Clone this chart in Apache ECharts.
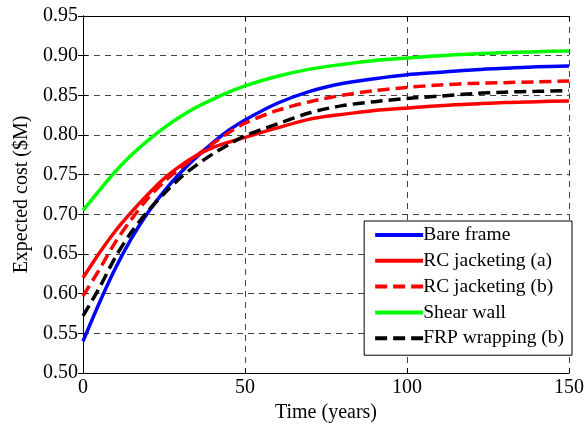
<!DOCTYPE html>
<html>
<head>
<meta charset="utf-8">
<script src="https://cdn.jsdelivr.net/npm/echarts@6/dist/echarts.min.js"></script>
<style>
html,body{margin:0;padding:0;background:#fff;}
#chart{width:587px;height:428px;}
</style>
</head>
<body>
<div id="chart"></div>
<script>
var years = [0,5,10,15,20,25,30,35,40,45,50,60,70,80,90,100,110,120,130,140,150];
var bareFrame = [0.540,0.588,0.632,0.670,0.702,0.729,0.752,0.772,0.790,0.806,0.819,0.840,0.855,0.865,0.871,0.876,0.879,0.882,0.884,0.886,0.887];
var rcJacketingA = [0.620,0.651,0.679,0.703,0.725,0.745,0.761,0.774,0.784,0.791,0.797,0.809,0.820,0.826,0.831,0.834,0.837,0.839,0.841,0.842,0.843];
var rcJacketingB = [0.597,0.630,0.665,0.694,0.720,0.741,0.758,0.774,0.789,0.803,0.815,0.831,0.842,0.850,0.856,0.860,0.863,0.865,0.866,0.867,0.868];
var shearWall = [0.705,0.730,0.754,0.775,0.793,0.809,0.823,0.835,0.845,0.854,0.862,0.874,0.883,0.889,0.894,0.897,0.900,0.902,0.904,0.905,0.906];
var frpWrappingB = [0.572,0.607,0.646,0.678,0.704,0.726,0.746,0.762,0.776,0.788,0.799,0.814,0.828,0.837,0.842,0.846,0.849,0.852,0.854,0.855,0.856];
var seriesNames = ['Bare frame','RC jacketing (a)','RC jacketing (b)','Shear wall','FRP wrapping (b)'];

function pairs(vals){ return years.map(function(t,i){ return [t, vals[i]]; }); }

var FONT = '"Liberation Serif","Times New Roman",serif';
var gridLine = {show:true, lineStyle:{color:'#444', width:1, type:[6,5]}};

var chart = echarts.init(document.getElementById('chart'), null, {renderer:'canvas'});
function mk(name, vals, color, dashed){
  return {
    name:name, type:'line', data:pairs(vals), symbol:'none', smooth:0.3,
    xAxisIndex:0, yAxisIndex:0,
    lineStyle:{color:color, width:3.5, type: dashed ? [12,6] : 'solid'},
    itemStyle:{color:color}
  };
}
chart.setOption({
  animation:false,
  backgroundColor:'#fff',
  grid:{left:83, right:15, top:16, bottom:55},
  xAxis:[{
    type:'value', min:0, max:150, interval:50, position:'bottom',
    name:'Time (years)', nameLocation:'middle', nameGap:29,
    nameTextStyle:{fontFamily:FONT, fontSize:20, color:'#000'},
    axisLine:{show:true, lineStyle:{color:'#000', width:1}},
    axisTick:{show:true, inside:true, length:5, lineStyle:{color:'#000'}},
    axisLabel:{fontFamily:FONT, fontSize:20, color:'#000', margin:5},
    splitLine:gridLine
  },{
    type:'value', min:0, max:150, interval:50, position:'top',
    axisLine:{show:true, lineStyle:{color:'#000', width:1}},
    axisTick:{show:true, inside:true, length:5, lineStyle:{color:'#000'}},
    axisLabel:{show:false}, splitLine:{show:false}
  }],
  yAxis:[{
    type:'value', min:0.5, max:0.95, interval:0.05, position:'left',
    name:'Expected cost ($M)', nameLocation:'middle', nameGap:47,
    nameTextStyle:{fontFamily:FONT, fontSize:20, color:'#000'},
    axisLine:{show:true, lineStyle:{color:'#000', width:1}},
    axisTick:{show:true, inside:true, length:5, lineStyle:{color:'#000'}},
    axisLabel:{fontFamily:FONT, fontSize:20, color:'#000', margin:5,
      formatter:function(v){ return v.toFixed(2); }},
    splitLine:gridLine
  },{
    type:'value', min:0.5, max:0.95, interval:0.05, position:'right',
    axisLine:{show:true, lineStyle:{color:'#000', width:1}},
    axisTick:{show:true, inside:true, length:5, lineStyle:{color:'#000'}},
    axisLabel:{show:false}, splitLine:{show:false}
  }],
  legend:{
    orient:'vertical', right:15, top:221,
    data:seriesNames,
    itemWidth:48, itemHeight:14, itemGap:5.8,
    padding:[4,8,7,9],
    itemStyle:{opacity:0},
    lineStyle:{width:4},
    backgroundColor:'#fff', borderColor:'#000', borderWidth:1, borderRadius:0,
    textStyle:{fontFamily:FONT, fontSize:19.5, color:'#000', lineHeight:20, padding:[0,0,0,-5]}
  },
  series:[
    mk(seriesNames[0], bareFrame, '#0000ff', false),
    mk(seriesNames[1], rcJacketingA, '#ff0000', false),
    mk(seriesNames[2], rcJacketingB, '#ff0000', true),
    mk(seriesNames[3], shearWall, '#00ff00', false),
    mk(seriesNames[4], frpWrappingB, '#000000', true)
  ]
});
</script>
</body>
</html>
